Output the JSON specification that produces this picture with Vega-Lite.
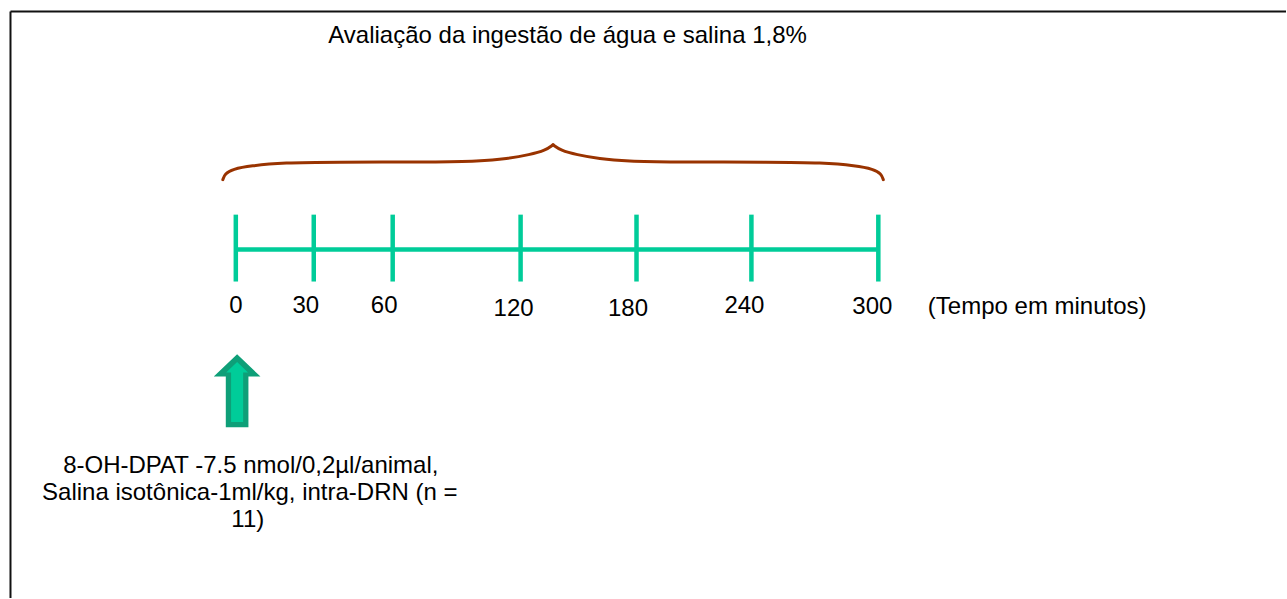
{
  "$schema": "https://vega.github.io/schema/vega-lite/v6.json",
  "width": 1287,
  "height": 599,
  "autosize": {"type": "fit", "contains": "padding"},
  "padding": 0,
  "background": "white",
  "config": {"view": {"stroke": null}},
  "datasets": {
    "frame": [
      {"x": 10.5, "y": 11.5, "x2": 1287, "y2": 11.5},
      {"x": 10.5, "y": 11.5, "x2": 10.5, "y2": 599}
    ],
    "axisline": [
      {"x": 236, "y": 250, "x2": 879, "y2": 250}
    ],
    "ticks": [
      {"minute": 0, "x": 236, "y": 215, "y2": 282},
      {"minute": 30, "x": 314, "y": 215, "y2": 282},
      {"minute": 60, "x": 393, "y": 215, "y2": 282},
      {"minute": 120, "x": 521, "y": 215, "y2": 282},
      {"minute": 180, "x": 637, "y": 215, "y2": 282},
      {"minute": 240, "x": 752, "y": 215, "y2": 282},
      {"minute": 300, "x": 879, "y": 215, "y2": 282}
    ],
    "brace": [
      {"half": "L", "x": 223, "y": 180},
      {"half": "L", "x": 225, "y": 174},
      {"half": "L", "x": 233, "y": 169.5},
      {"half": "L", "x": 250, "y": 166},
      {"half": "L", "x": 285, "y": 163},
      {"half": "L", "x": 330, "y": 162.3},
      {"half": "L", "x": 440, "y": 162.3},
      {"half": "L", "x": 478, "y": 161.5},
      {"half": "L", "x": 508, "y": 159},
      {"half": "L", "x": 530, "y": 155},
      {"half": "L", "x": 546, "y": 150.5},
      {"half": "L", "x": 553.5, "y": 145},
      {"half": "R", "x": 553.5, "y": 145},
      {"half": "R", "x": 561, "y": 150.5},
      {"half": "R", "x": 577, "y": 155},
      {"half": "R", "x": 599, "y": 159},
      {"half": "R", "x": 629, "y": 161.5},
      {"half": "R", "x": 667, "y": 162.3},
      {"half": "R", "x": 777, "y": 162.3},
      {"half": "R", "x": 822, "y": 163},
      {"half": "R", "x": 857, "y": 166},
      {"half": "R", "x": 874, "y": 169.5},
      {"half": "R", "x": 882, "y": 174},
      {"half": "R", "x": 884, "y": 180}
    ],
    "arrow": [
      {"x": 237.3, "y": 391.5}
    ],
    "labels": [
      {"text": "Avaliação da ingestão de água e salina 1,8%", "x": 568, "y": 43.3},
      {"text": "0", "x": 236, "y": 314},
      {"text": "30", "x": 306, "y": 314},
      {"text": "60", "x": 384.5, "y": 314},
      {"text": "120", "x": 514, "y": 316.7},
      {"text": "180", "x": 628.5, "y": 316.7},
      {"text": "240", "x": 745, "y": 314},
      {"text": "300", "x": 873, "y": 315},
      {"text": "(Tempo em minutos)", "x": 1038, "y": 315},
      {"text": "8-OH-DPAT -7.5 nmol/0,2µl/animal,", "x": 251, "y": 473.5},
      {"text": "Salina isotônica-1ml/kg, intra-DRN (n =", "x": 250, "y": 500.5},
      {"text": "11)", "x": 248, "y": 527.5}
    ]
  },
  "layer": [
    {
      "data": {"name": "frame"},
      "mark": {"type": "rule", "color": "#111111", "strokeWidth": 2},
      "encoding": {
        "x": {"field": "x", "type": "quantitative", "scale": {"domain": [0, 1287], "nice": false, "zero": false}, "axis": null},
        "y": {"field": "y", "type": "quantitative", "scale": {"domain": [0, 599], "nice": false, "zero": false, "reverse": true}, "axis": null},
        "x2": {"field": "x2"},
        "y2": {"field": "y2"}
      }
    },
    {
      "data": {"name": "axisline"},
      "mark": {"type": "rule", "color": "#00cc99", "strokeWidth": 4.5},
      "encoding": {
        "x": {"field": "x", "type": "quantitative"},
        "y": {"field": "y", "type": "quantitative"},
        "x2": {"field": "x2"},
        "y2": {"field": "y2"}
      }
    },
    {
      "data": {"name": "ticks"},
      "mark": {"type": "rule", "color": "#00cc99", "strokeWidth": 4.5},
      "encoding": {
        "x": {"field": "x", "type": "quantitative"},
        "y": {"field": "y", "type": "quantitative"},
        "y2": {"field": "y2"}
      }
    },
    {
      "data": {"name": "brace"},
      "mark": {"type": "line", "color": "#993300", "strokeWidth": 3, "interpolate": "basis", "strokeCap": "round"},
      "encoding": {
        "x": {"field": "x", "type": "quantitative"},
        "y": {"field": "y", "type": "quantitative"},
        "detail": {"field": "half"}
      }
    },
    {
      "data": {"name": "arrow"},
      "mark": {"type": "point", "filled": true, "opacity": 1, "color": "#0e9f78", "size": 5329,
        "shape": "M0,-1L0.64,-0.39L0.31,-0.39L0.31,1L-0.31,1L-0.31,-0.39L-0.64,-0.39Z"},
      "encoding": {
        "x": {"field": "x", "type": "quantitative"},
        "y": {"field": "y", "type": "quantitative"}
      }
    },
    {
      "data": {"name": "arrow"},
      "mark": {"type": "point", "filled": true, "opacity": 1, "color": "#00cc99", "size": 5329,
        "shape": "M0,-0.79L0.30,-0.5L0.165,-0.5L0.165,0.855L-0.165,0.855L-0.165,-0.5L-0.30,-0.5Z"},
      "encoding": {
        "x": {"field": "x", "type": "quantitative"},
        "y": {"field": "y", "type": "quantitative"}
      }
    },
    {
      "data": {"name": "labels"},
      "mark": {"type": "text", "font": "Liberation Sans", "fontSize": 24, "color": "#000000", "align": "center", "baseline": "alphabetic"},
      "encoding": {
        "x": {"field": "x", "type": "quantitative"},
        "y": {"field": "y", "type": "quantitative"},
        "text": {"field": "text"}
      }
    }
  ]
}
